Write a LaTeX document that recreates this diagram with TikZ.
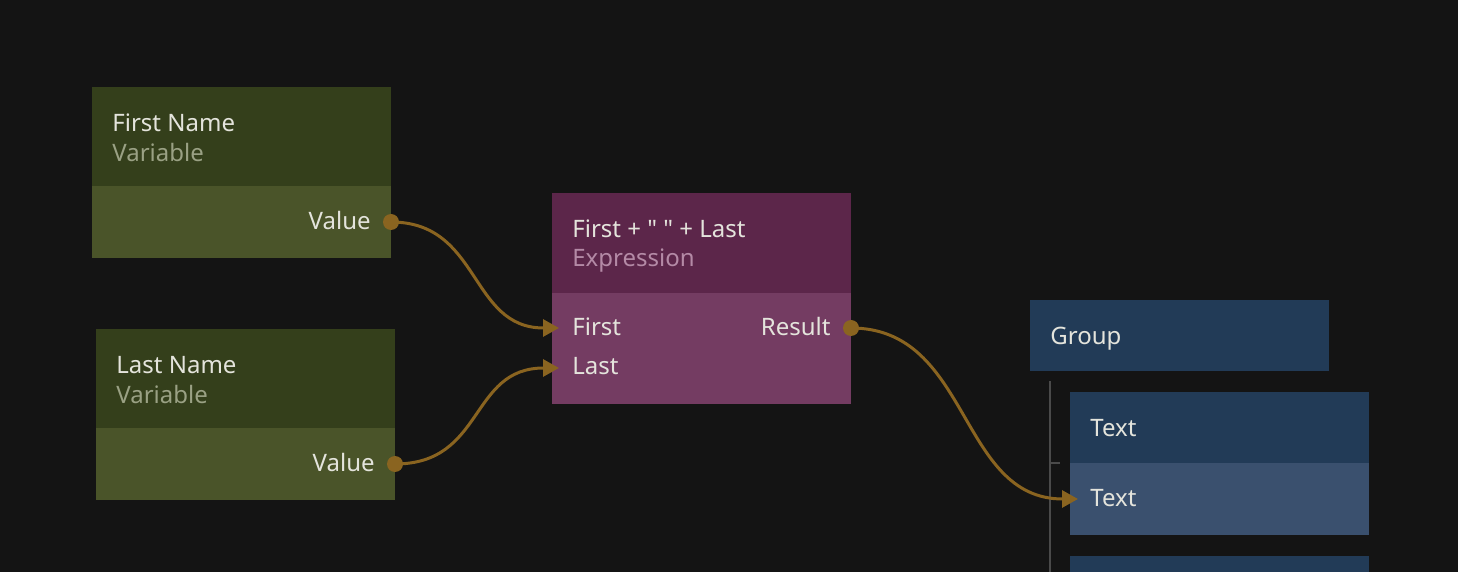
\documentclass[tikz,border=0pt]{standalone}
\usepackage{fontspec}
\setmainfont{Noto Sans}[Ligatures=TeXOff]
\usepackage{xcolor}
\usepackage{tikz}
\usetikzlibrary{arrows.meta, positioning}

\definecolor{canvas}{HTML}{141414}
\definecolor{varhead}{HTML}{343F1B}
\definecolor{varbody}{HTML}{4A5429}
\definecolor{exprhead}{HTML}{5C264A}
\definecolor{exprbody}{HTML}{743C62}
\definecolor{uihead}{HTML}{223B57}
\definecolor{uibody}{HTML}{3A506E}
\definecolor{wirecolor}{HTML}{8A6420}
\definecolor{treecolor}{HTML}{4A4A4A}
\definecolor{labeltext}{HTML}{E4E4DC}
\definecolor{varsub}{HTML}{9AA184}
\definecolor{exprsub}{HTML}{B48AA6}

\begin{document}
\begin{tikzpicture}[x=0.5pt, y=-0.5pt]
        % Define block styles
        \tikzstyle{head} = [rectangle, inner sep=0pt, outer sep=0pt, minimum width=149.5pt, anchor=north west]
        \tikzstyle{body} = [rectangle, inner sep=0pt, outer sep=0pt, minimum width=149.5pt]
        \tikzstyle{title} = [inner sep=0pt, anchor=base west, text=labeltext, font=\fontsize{12}{14}\selectfont]
        \tikzstyle{port} = [circle, fill=wirecolor, inner sep=0pt, minimum size=8pt]
        \tikzstyle{wire} = [draw=wirecolor, line width=1.5pt, -{Triangle[length=8pt,width=8.5pt]}]

        % Canvas
        \fill [canvas] (0,0) rectangle (1458,572);
        \useasboundingbox (0,0) rectangle (1458,572);

        % First Name variable
        \node (firsthead) [head, fill=varhead, minimum height=49.5pt] at (92,87) {};
        \node (firstbody) [body, fill=varbody, minimum height=36pt, below=0pt of firsthead] {};
        \node (firsttitle) [title] at (112,132) {First Name};
        \node (firstkind) [title, text=varsub] at (112,162) {Variable};
        \node (firstvalue) [title, anchor=base east] at (371,230) {Value};
        \node (firstout) [port] at (391,222) {};

        % Last Name variable
        \node (lasthead) [head, fill=varhead, minimum height=49.5pt] at (96,329) {};
        \node (lastbody) [body, fill=varbody, minimum height=36pt, below=0pt of lasthead] {};
        \node (lasttitle) [title] at (116,374) {Last Name};
        \node (lastkind) [title, text=varsub] at (116,404) {Variable};
        \node (lastvalue) [title, anchor=base east] at (375,472) {Value};
        \node (lastout) [port] at (395,464) {};

        % Expression
        \node (exprhead) [head, fill=exprhead, minimum height=50pt] at (552,193) {};
        \node (exprbody) [body, fill=exprbody, minimum height=55.5pt, below=0pt of exprhead] {};
        \node (exprtitle) [title] at (572,238) {First + " " + Last};
        \node (exprkind) [title, text=exprsub] at (572,267) {Expression};
        \node (exprfirstlabel) [title] at (572,336) {First};
        \node (exprlastlabel) [title] at (572,375) {Last};
        \node (exprresult) [title, anchor=base east] at (831,336) {Result};
        \node (resultout) [port] at (851,328) {};
        \coordinate (exprfirst) at (559,328);
        \coordinate (exprlast) at (559,368);

        % Group and its children
        \node (grouphead) [head, fill=uihead, minimum height=35.5pt] at (1030,300) {};
        \node (grouptitle) [title] at (1050,345) {Group};
        \coordinate (treetop) at (1050,381);
        \coordinate (treebottom) at (1050,572);
        \coordinate (treeknot) at (1050,463);
        \coordinate (treetick) at (1060,463);
        \draw [treecolor, line width=1pt] (treetop) -- (treebottom);
        \draw [treecolor, line width=1pt] (treeknot) -- (treetick);

        \node (texthead) [head, fill=uihead, minimum height=35.5pt] at (1070,392) {};
        \node (textbody) [body, fill=uibody, minimum height=36pt, below=0pt of texthead] {};
        \node (texttitle) [title] at (1090,437) {Text};
        \node (textprop) [title] at (1090,507) {Text};
        \coordinate (textin) at (1078,499);
        \node (nexthead) [head, fill=uihead, minimum height=8pt] at (1070,556) {};

        % Wires
        \draw [wire] (firstout.center) .. controls +(90,0) and +(-90,0) .. (exprfirst);
        \draw [wire] (lastout.center) .. controls +(90,0) and +(-90,0) .. (exprlast);
        \draw [wire] (resultout.center) .. controls +(120,0) and +(-120,0) .. (textin);
    \end{tikzpicture}
\end{document}
